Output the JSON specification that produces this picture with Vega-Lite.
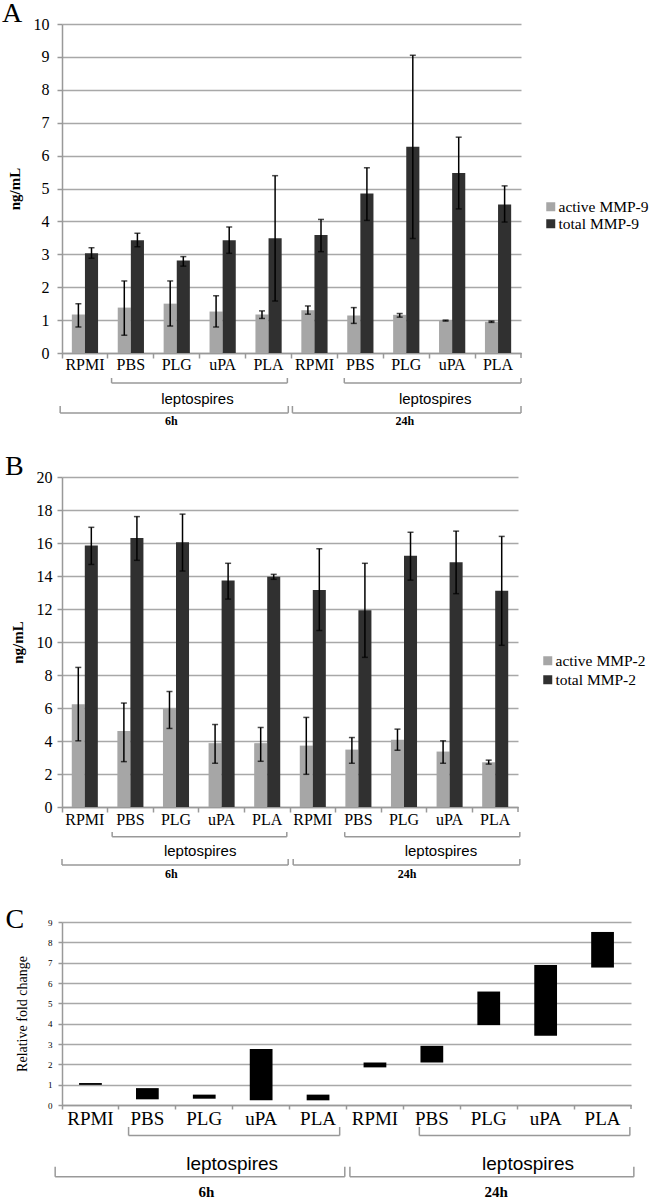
{
  "$schema": "https://vega.github.io/schema/vega-lite/v6.json",
  "padding": {"left": 2, "top": 0, "right": 0, "bottom": 0},
  "background": "white",
  "config": {
    "view": {"stroke": null},
    "axis": {"domainColor": "#999999", "tickColor": "#999999", "domainWidth": 1.5, "tickWidth": 1.5, "gridColor": "#a8a8a8", "gridWidth": 1.5, "labelFont": "Liberation Serif", "labelColor": "#000000", "titleFont": "Liberation Serif", "titleColor": "#000000", "labelOverlap": false}
  },
  "datasets": {
    "mmp9": [
      {"key": "RPMI|6h", "type": "active MMP-9", "mean": 1.17, "lo": 0.79, "hi": 1.50},
      {"key": "RPMI|6h", "type": "total MMP-9", "mean": 3.03, "lo": 2.88, "hi": 3.20},
      {"key": "PBS|6h", "type": "active MMP-9", "mean": 1.38, "lo": 0.54, "hi": 2.19},
      {"key": "PBS|6h", "type": "total MMP-9", "mean": 3.43, "lo": 3.23, "hi": 3.64},
      {"key": "PLG|6h", "type": "active MMP-9", "mean": 1.50, "lo": 0.82, "hi": 2.19},
      {"key": "PLG|6h", "type": "total MMP-9", "mean": 2.81, "lo": 2.64, "hi": 2.93},
      {"key": "uPA|6h", "type": "active MMP-9", "mean": 1.26, "lo": 0.79, "hi": 1.74},
      {"key": "uPA|6h", "type": "total MMP-9", "mean": 3.43, "lo": 3.03, "hi": 3.83},
      {"key": "PLA|6h", "type": "active MMP-9", "mean": 1.17, "lo": 1.05, "hi": 1.28},
      {"key": "PLA|6h", "type": "total MMP-9", "mean": 3.49, "lo": 1.58, "hi": 5.39},
      {"key": "RPMI|24h", "type": "active MMP-9", "mean": 1.30, "lo": 1.18, "hi": 1.43},
      {"key": "RPMI|24h", "type": "total MMP-9", "mean": 3.59, "lo": 3.08, "hi": 4.06},
      {"key": "PBS|24h", "type": "active MMP-9", "mean": 1.14, "lo": 0.90, "hi": 1.38},
      {"key": "PBS|24h", "type": "total MMP-9", "mean": 4.85, "lo": 4.03, "hi": 5.63},
      {"key": "PLG|24h", "type": "active MMP-9", "mean": 1.16, "lo": 1.09, "hi": 1.20},
      {"key": "PLG|24h", "type": "total MMP-9", "mean": 6.27, "lo": 3.48, "hi": 9.05},
      {"key": "uPA|24h", "type": "active MMP-9", "mean": 0.99, "lo": 0.97, "hi": 1.00},
      {"key": "uPA|24h", "type": "total MMP-9", "mean": 5.47, "lo": 4.38, "hi": 6.56},
      {"key": "PLA|24h", "type": "active MMP-9", "mean": 0.95, "lo": 0.93, "hi": 0.97},
      {"key": "PLA|24h", "type": "total MMP-9", "mean": 4.51, "lo": 3.98, "hi": 5.08}
    ],
    "mmp2": [
      {"key": "RPMI|6h", "type": "active MMP-2", "mean": 6.23, "lo": 4.01, "hi": 8.46},
      {"key": "RPMI|6h", "type": "total MMP-2", "mean": 15.85, "lo": 14.7, "hi": 16.95},
      {"key": "PBS|6h", "type": "active MMP-2", "mean": 4.6, "lo": 2.75, "hi": 6.3},
      {"key": "PBS|6h", "type": "total MMP-2", "mean": 16.3, "lo": 14.95, "hi": 17.6},
      {"key": "PLG|6h", "type": "active MMP-2", "mean": 5.97, "lo": 4.76, "hi": 7.0},
      {"key": "PLG|6h", "type": "total MMP-2", "mean": 16.05, "lo": 14.3, "hi": 17.75},
      {"key": "uPA|6h", "type": "active MMP-2", "mean": 3.87, "lo": 2.65, "hi": 5.0},
      {"key": "uPA|6h", "type": "total MMP-2", "mean": 13.72, "lo": 12.6, "hi": 14.77},
      {"key": "PLA|6h", "type": "active MMP-2", "mean": 3.87, "lo": 2.77, "hi": 4.82},
      {"key": "PLA|6h", "type": "total MMP-2", "mean": 13.95, "lo": 13.8, "hi": 14.1},
      {"key": "RPMI|24h", "type": "active MMP-2", "mean": 3.72, "lo": 1.98, "hi": 5.43},
      {"key": "RPMI|24h", "type": "total MMP-2", "mean": 13.15, "lo": 10.7, "hi": 15.65},
      {"key": "PBS|24h", "type": "active MMP-2", "mean": 3.48, "lo": 2.65, "hi": 4.21},
      {"key": "PBS|24h", "type": "total MMP-2", "mean": 11.93, "lo": 9.07, "hi": 14.77},
      {"key": "PLG|24h", "type": "active MMP-2", "mean": 4.08, "lo": 3.44, "hi": 4.72},
      {"key": "PLG|24h", "type": "total MMP-2", "mean": 15.22, "lo": 13.75, "hi": 16.65},
      {"key": "uPA|24h", "type": "active MMP-2", "mean": 3.36, "lo": 2.65, "hi": 4.01},
      {"key": "uPA|24h", "type": "total MMP-2", "mean": 14.84, "lo": 12.93, "hi": 16.72},
      {"key": "PLA|24h", "type": "active MMP-2", "mean": 2.71, "lo": 2.6, "hi": 2.84},
      {"key": "PLA|24h", "type": "total MMP-2", "mean": 13.1, "lo": 9.8, "hi": 16.4}
    ],
    "fold": [
      {"key": "RPMI|6h", "lo": 0.99, "hi": 1.08},
      {"key": "PBS|6h", "lo": 0.28, "hi": 0.83},
      {"key": "PLG|6h", "lo": 0.31, "hi": 0.51},
      {"key": "uPA|6h", "lo": 0.23, "hi": 2.75},
      {"key": "PLA|6h", "lo": 0.23, "hi": 0.51},
      {"key": "RPMI|24h", "lo": 1.85, "hi": 2.09},
      {"key": "PBS|24h", "lo": 2.09, "hi": 2.91},
      {"key": "PLG|24h", "lo": 3.93, "hi": 5.58},
      {"key": "uPA|24h", "lo": 3.4, "hi": 6.89},
      {"key": "PLA|24h", "lo": 6.76, "hi": 8.51}
    ],
    "segA": [
      {"x": 1.08, "x2": 4.91, "y": -0.91, "y2": -0.91},
      {"x": 1.08, "x2": 1.08, "y": -0.91, "y2": -0.76},
      {"x": 4.91, "x2": 4.91, "y": -0.91, "y2": -0.76},
      {"x": 6.15, "x2": 10.0, "y": -0.91, "y2": -0.91},
      {"x": 6.15, "x2": 6.15, "y": -0.91, "y2": -0.76},
      {"x": 10.0, "x2": 10.0, "y": -0.91, "y2": -0.76},
      {"x": -0.04, "x2": 4.93, "y": -1.82, "y2": -1.82},
      {"x": -0.04, "x2": -0.04, "y": -1.82, "y2": -1.61},
      {"x": 4.93, "x2": 4.93, "y": -1.82, "y2": -1.61},
      {"x": 5.02, "x2": 10.0, "y": -1.82, "y2": -1.82},
      {"x": 5.02, "x2": 5.02, "y": -1.82, "y2": -1.61},
      {"x": 10.0, "x2": 10.0, "y": -1.82, "y2": -1.61},
      {"x": 10.0, "x2": 10.0, "y": 0, "y2": -0.15}
    ],
    "txtA": [
      {"x": 2.95, "y": -1.39, "label": "leptospires", "kind": "lept"},
      {"x": 8.13, "y": -1.39, "label": "leptospires", "kind": "lept"},
      {"x": 2.38, "y": -2.07, "label": "6h", "kind": "time"},
      {"x": 7.47, "y": -2.07, "label": "24h", "kind": "time"}
    ],
    "segB": [
      {"x": 1.10, "x2": 4.93, "y": -1.80, "y2": -1.80},
      {"x": 1.10, "x2": 1.10, "y": -1.80, "y2": -1.52},
      {"x": 4.93, "x2": 4.93, "y": -1.80, "y2": -1.52},
      {"x": 6.2, "x2": 10.04, "y": -1.80, "y2": -1.80},
      {"x": 6.2, "x2": 6.2, "y": -1.80, "y2": -1.52},
      {"x": 10.04, "x2": 10.04, "y": -1.80, "y2": -1.52},
      {"x": 0.0, "x2": 4.96, "y": -3.52, "y2": -3.52},
      {"x": 0.0, "x2": 0.0, "y": -3.52, "y2": -3.15},
      {"x": 4.96, "x2": 4.96, "y": -3.52, "y2": -3.15},
      {"x": 5.07, "x2": 10.04, "y": -3.52, "y2": -3.52},
      {"x": 5.07, "x2": 5.07, "y": -3.52, "y2": -3.15},
      {"x": 10.04, "x2": 10.04, "y": -3.52, "y2": -3.15},
      {"x": 10.0, "x2": 10.0, "y": 0, "y2": -0.30}
    ],
    "txtB": [
      {"x": 3.03, "y": -2.67, "label": "leptospires", "kind": "lept"},
      {"x": 8.31, "y": -2.67, "label": "leptospires", "kind": "lept"},
      {"x": 2.40, "y": -4.06, "label": "6h", "kind": "time"},
      {"x": 7.57, "y": -4.06, "label": "24h", "kind": "time"}
    ],
    "segC": [
      {"x": 1.17, "x2": 4.88, "y": -1.50, "y2": -1.50},
      {"x": 1.17, "x2": 1.17, "y": -1.50, "y2": -1.08},
      {"x": 4.88, "x2": 4.88, "y": -1.50, "y2": -1.08},
      {"x": 6.28, "x2": 9.98, "y": -1.50, "y2": -1.50},
      {"x": 6.28, "x2": 6.28, "y": -1.50, "y2": -1.08},
      {"x": 9.98, "x2": 9.98, "y": -1.50, "y2": -1.08},
      {"x": -0.12, "x2": 4.97, "y": -3.53, "y2": -3.53},
      {"x": -0.12, "x2": -0.12, "y": -3.53, "y2": -3.04},
      {"x": 4.97, "x2": 4.97, "y": -3.53, "y2": -3.04},
      {"x": 5.06, "x2": 10.05, "y": -3.53, "y2": -3.53},
      {"x": 5.06, "x2": 5.06, "y": -3.53, "y2": -3.04},
      {"x": 10.05, "x2": 10.05, "y": -3.53, "y2": -3.04},
      {"x": 10.0, "x2": 10.0, "y": 0, "y2": -0.2}
    ],
    "txtC": [
      {"x": 2.99, "y": -2.89, "label": "leptospires", "kind": "lept"},
      {"x": 8.19, "y": -2.89, "label": "leptospires", "kind": "lept"},
      {"x": 2.54, "y": -4.27, "label": "6h", "kind": "time"},
      {"x": 7.63, "y": -4.27, "label": "24h", "kind": "time"}
    ]
  },
  "vconcat": [
    {
      "width": 459,
      "height": 329,
      "title": {"text": "A", "anchor": "start", "frame": "bounds", "font": "Liberation Serif", "fontSize": 28, "fontWeight": "normal", "color": "#000000", "baseline": "alphabetic", "offset": -34, "dx": -5},
      "resolve": {"scale": {"x": "independent"}},
      "layer": [
        {
          "data": {"name": "mmp9"},
          "encoding": {
            "x": {"field": "key", "type": "nominal", "sort": ["RPMI|6h", "PBS|6h", "PLG|6h", "uPA|6h", "PLA|6h", "RPMI|24h", "PBS|24h", "PLG|24h", "uPA|24h", "PLA|24h"], "scale": {"paddingInner": 0, "paddingOuter": 0}, "axis": {"title": null, "labelExpr": "split(datum.label, '|')[0]", "bandPosition": 0, "tickSize": 5, "labelPadding": -2, "labelFontSize": 16, "labelAngle": 0, "labelBaseline": "top", "grid": false}},
            "xOffset": {"field": "type", "type": "nominal", "sort": ["active MMP-9", "total MMP-9"], "scale": {"paddingInner": 0, "paddingOuter": 0.75}}
          },
          "layer": [
            {
              "mark": {"type": "bar"},
              "encoding": {
                "y": {"field": "mean", "type": "quantitative", "title": "ng/mL", "scale": {"domain": [0, 10], "nice": false}, "axis": {"values": [0, 1, 2, 3, 4, 5, 6, 7, 8, 9, 10], "tickSize": 5, "labelPadding": 8, "labelFontSize": 16, "titleFontSize": 15, "titleFontWeight": "bold", "titlePadding": 11, "grid": true}},
                "color": {"field": "type", "type": "nominal", "sort": ["active MMP-9", "total MMP-9"], "scale": {"domain": ["active MMP-9", "total MMP-9"], "range": ["#a6a6a6", "#303030"]}, "legend": {"title": null, "orient": "none", "legendX": 481, "legendY": 175, "symbolType": "square", "symbolSize": 81, "symbolStrokeWidth": 0, "labelFont": "Liberation Serif", "labelFontSize": 15.5, "labelColor": "#000000", "labelOffset": 0, "rowPadding": -1, "padding": 0, "labelLimit": 300}}
              }
            },
            {
              "mark": {"type": "rule", "color": "#000000", "strokeWidth": 1.5},
              "encoding": {"y": {"field": "lo", "type": "quantitative", "title": "ng/mL", "scale": {"domain": [0, 10], "nice": false}, "axis": {"values": [0, 1, 2, 3, 4, 5, 6, 7, 8, 9, 10], "tickSize": 5, "labelPadding": 8, "labelFontSize": 16, "titleFontSize": 15, "titleFontWeight": "bold", "titlePadding": 11, "grid": true}}, "y2": {"field": "hi"}}
            },
            {
              "mark": {"type": "tick", "color": "#000000", "size": 6, "thickness": 1.5},
              "encoding": {"y": {"field": "hi", "type": "quantitative", "title": "ng/mL", "scale": {"domain": [0, 10], "nice": false}, "axis": {"values": [0, 1, 2, 3, 4, 5, 6, 7, 8, 9, 10], "tickSize": 5, "labelPadding": 8, "labelFontSize": 16, "titleFontSize": 15, "titleFontWeight": "bold", "titlePadding": 11, "grid": true}}}
            },
            {
              "mark": {"type": "tick", "color": "#000000", "size": 6, "thickness": 1.5},
              "encoding": {"y": {"field": "lo", "type": "quantitative", "title": "ng/mL", "scale": {"domain": [0, 10], "nice": false}, "axis": {"values": [0, 1, 2, 3, 4, 5, 6, 7, 8, 9, 10], "tickSize": 5, "labelPadding": 8, "labelFontSize": 16, "titleFontSize": 15, "titleFontWeight": "bold", "titlePadding": 11, "grid": true}}}
            }
          ]
        },
        {
          "data": {"name": "segA"},
          "mark": {"type": "rule", "color": "#999999", "strokeWidth": 1.5},
          "encoding": {
            "x": {"field": "x", "type": "quantitative", "scale": {"domain": [0, 10], "nice": false, "zero": false}, "axis": null},
            "x2": {"field": "x2"},
            "y": {"field": "y", "type": "quantitative", "title": "ng/mL", "scale": {"domain": [0, 10], "nice": false}, "axis": {"values": [0, 1, 2, 3, 4, 5, 6, 7, 8, 9, 10], "tickSize": 5, "labelPadding": 8, "labelFontSize": 16, "titleFontSize": 15, "titleFontWeight": "bold", "titlePadding": 11, "grid": true}},
            "y2": {"field": "y2"}
          }
        },
        {
          "data": {"name": "txtA"},
          "transform": [{"filter": "datum.kind == 'lept'"}],
          "mark": {"type": "text", "font": "Liberation Sans", "fontSize": 15, "color": "#000000", "baseline": "middle"},
          "encoding": {
            "x": {"field": "x", "type": "quantitative", "scale": {"domain": [0, 10], "nice": false, "zero": false}, "axis": null},
            "y": {"field": "y", "type": "quantitative", "title": "ng/mL", "scale": {"domain": [0, 10], "nice": false}, "axis": {"values": [0, 1, 2, 3, 4, 5, 6, 7, 8, 9, 10], "tickSize": 5, "labelPadding": 8, "labelFontSize": 16, "titleFontSize": 15, "titleFontWeight": "bold", "titlePadding": 11, "grid": true}},
            "text": {"field": "label"}
          }
        },
        {
          "data": {"name": "txtA"},
          "transform": [{"filter": "datum.kind == 'time'"}],
          "mark": {"type": "text", "font": "Liberation Serif", "fontSize": 12, "fontWeight": "bold", "color": "#000000", "baseline": "middle"},
          "encoding": {
            "x": {"field": "x", "type": "quantitative", "scale": {"domain": [0, 10], "nice": false, "zero": false}, "axis": null},
            "y": {"field": "y", "type": "quantitative", "title": "ng/mL", "scale": {"domain": [0, 10], "nice": false}, "axis": {"values": [0, 1, 2, 3, 4, 5, 6, 7, 8, 9, 10], "tickSize": 5, "labelPadding": 8, "labelFontSize": 16, "titleFontSize": 15, "titleFontWeight": "bold", "titlePadding": 11, "grid": true}},
            "text": {"field": "label"}
          }
        }
      ]
    },
    {
      "width": 456,
      "height": 330,
      "title": {"text": "B", "anchor": "start", "frame": "bounds", "font": "Liberation Serif", "fontSize": 28, "fontWeight": "normal", "color": "#000000", "baseline": "alphabetic", "offset": -34, "dx": -5},
      "resolve": {"scale": {"x": "independent"}},
      "layer": [
        {
          "data": {"name": "mmp2"},
          "encoding": {
            "x": {"field": "key", "type": "nominal", "sort": ["RPMI|6h", "PBS|6h", "PLG|6h", "uPA|6h", "PLA|6h", "RPMI|24h", "PBS|24h", "PLG|24h", "uPA|24h", "PLA|24h"], "scale": {"paddingInner": 0, "paddingOuter": 0}, "axis": {"title": null, "labelExpr": "split(datum.label, '|')[0]", "bandPosition": 0, "tickSize": 5, "labelPadding": -1, "labelFontSize": 16, "labelAngle": 0, "labelBaseline": "top", "grid": false}},
            "xOffset": {"field": "type", "type": "nominal", "sort": ["active MMP-2", "total MMP-2"], "scale": {"paddingInner": 0, "paddingOuter": 0.75}}
          },
          "layer": [
            {
              "mark": {"type": "bar"},
              "encoding": {
                "y": {"field": "mean", "type": "quantitative", "title": "ng/mL", "scale": {"domain": [0, 20], "nice": false}, "axis": {"values": [0, 2, 4, 6, 8, 10, 12, 14, 16, 18, 20], "tickSize": 5, "labelPadding": 5, "labelFontSize": 16, "titleFontSize": 15, "titleFontWeight": "bold", "titlePadding": 11, "grid": true}},
                "color": {"field": "type", "type": "nominal", "sort": ["active MMP-2", "total MMP-2"], "scale": {"domain": ["active MMP-2", "total MMP-2"], "range": ["#a6a6a6", "#303030"]}, "legend": {"title": null, "orient": "none", "legendX": 478, "legendY": 176, "symbolType": "square", "symbolSize": 81, "symbolStrokeWidth": 0, "labelFont": "Liberation Serif", "labelFontSize": 15.5, "labelColor": "#000000", "labelOffset": 0, "rowPadding": 2, "padding": 0, "labelLimit": 300}}
              }
            },
            {
              "mark": {"type": "rule", "color": "#000000", "strokeWidth": 1.5},
              "encoding": {"y": {"field": "lo", "type": "quantitative", "title": "ng/mL", "scale": {"domain": [0, 20], "nice": false}, "axis": {"values": [0, 2, 4, 6, 8, 10, 12, 14, 16, 18, 20], "tickSize": 5, "labelPadding": 5, "labelFontSize": 16, "titleFontSize": 15, "titleFontWeight": "bold", "titlePadding": 11, "grid": true}}, "y2": {"field": "hi"}}
            },
            {
              "mark": {"type": "tick", "color": "#000000", "size": 6, "thickness": 1.5},
              "encoding": {"y": {"field": "hi", "type": "quantitative", "title": "ng/mL", "scale": {"domain": [0, 20], "nice": false}, "axis": {"values": [0, 2, 4, 6, 8, 10, 12, 14, 16, 18, 20], "tickSize": 5, "labelPadding": 5, "labelFontSize": 16, "titleFontSize": 15, "titleFontWeight": "bold", "titlePadding": 11, "grid": true}}}
            },
            {
              "mark": {"type": "tick", "color": "#000000", "size": 6, "thickness": 1.5},
              "encoding": {"y": {"field": "lo", "type": "quantitative", "title": "ng/mL", "scale": {"domain": [0, 20], "nice": false}, "axis": {"values": [0, 2, 4, 6, 8, 10, 12, 14, 16, 18, 20], "tickSize": 5, "labelPadding": 5, "labelFontSize": 16, "titleFontSize": 15, "titleFontWeight": "bold", "titlePadding": 11, "grid": true}}}
            }
          ]
        },
        {
          "data": {"name": "segB"},
          "mark": {"type": "rule", "color": "#999999", "strokeWidth": 1.5},
          "encoding": {
            "x": {"field": "x", "type": "quantitative", "scale": {"domain": [0, 10], "nice": false, "zero": false}, "axis": null},
            "x2": {"field": "x2"},
            "y": {"field": "y", "type": "quantitative", "title": "ng/mL", "scale": {"domain": [0, 20], "nice": false}, "axis": {"values": [0, 2, 4, 6, 8, 10, 12, 14, 16, 18, 20], "tickSize": 5, "labelPadding": 5, "labelFontSize": 16, "titleFontSize": 15, "titleFontWeight": "bold", "titlePadding": 11, "grid": true}},
            "y2": {"field": "y2"}
          }
        },
        {
          "data": {"name": "txtB"},
          "transform": [{"filter": "datum.kind == 'lept'"}],
          "mark": {"type": "text", "font": "Liberation Sans", "fontSize": 15, "color": "#000000", "baseline": "middle"},
          "encoding": {
            "x": {"field": "x", "type": "quantitative", "scale": {"domain": [0, 10], "nice": false, "zero": false}, "axis": null},
            "y": {"field": "y", "type": "quantitative", "title": "ng/mL", "scale": {"domain": [0, 20], "nice": false}, "axis": {"values": [0, 2, 4, 6, 8, 10, 12, 14, 16, 18, 20], "tickSize": 5, "labelPadding": 5, "labelFontSize": 16, "titleFontSize": 15, "titleFontWeight": "bold", "titlePadding": 11, "grid": true}},
            "text": {"field": "label"}
          }
        },
        {
          "data": {"name": "txtB"},
          "transform": [{"filter": "datum.kind == 'time'"}],
          "mark": {"type": "text", "font": "Liberation Serif", "fontSize": 12, "fontWeight": "bold", "color": "#000000", "baseline": "middle"},
          "encoding": {
            "x": {"field": "x", "type": "quantitative", "scale": {"domain": [0, 10], "nice": false, "zero": false}, "axis": null},
            "y": {"field": "y", "type": "quantitative", "title": "ng/mL", "scale": {"domain": [0, 20], "nice": false}, "axis": {"values": [0, 2, 4, 6, 8, 10, 12, 14, 16, 18, 20], "tickSize": 5, "labelPadding": 5, "labelFontSize": 16, "titleFontSize": 15, "titleFontWeight": "bold", "titlePadding": 11, "grid": true}},
            "text": {"field": "label"}
          }
        }
      ]
    },
    {
      "width": 569,
      "height": 183,
      "title": {"text": "C", "anchor": "start", "frame": "bounds", "font": "Liberation Serif", "fontSize": 28, "fontWeight": "normal", "color": "#000000", "baseline": "alphabetic", "offset": -37.5, "dx": -10},
      "resolve": {"scale": {"x": "independent"}},
      "layer": [
        {
          "data": {"name": "fold"},
          "mark": {"type": "bar", "color": "#000000", "width": {"band": 0.4}},
          "encoding": {
            "x": {"field": "key", "type": "nominal", "sort": ["RPMI|6h", "PBS|6h", "PLG|6h", "uPA|6h", "PLA|6h", "RPMI|24h", "PBS|24h", "PLG|24h", "uPA|24h", "PLA|24h"], "scale": {"paddingInner": 0, "paddingOuter": 0}, "axis": {"title": null, "labelExpr": "split(datum.label, '|')[0]", "bandPosition": 0, "tickSize": 4, "labelPadding": 0, "labelFontSize": 19, "labelAngle": 0, "labelBaseline": "top", "grid": false}},
            "y": {"field": "lo", "type": "quantitative", "title": "Relative fold change", "scale": {"domain": [0, 9], "nice": false}, "axis": {"values": [0, 1, 2, 3, 4, 5, 6, 7, 8, 9], "tickSize": 4, "labelPadding": 6, "labelFontSize": 9, "titleFontSize": 14, "titleFontWeight": "normal", "titlePadding": 18, "grid": true}},
            "y2": {"field": "hi"}
          }
        },
        {
          "data": {"name": "segC"},
          "mark": {"type": "rule", "color": "#999999", "strokeWidth": 1.5},
          "encoding": {
            "x": {"field": "x", "type": "quantitative", "scale": {"domain": [0, 10], "nice": false, "zero": false}, "axis": null},
            "x2": {"field": "x2"},
            "y": {"field": "y", "type": "quantitative", "title": "Relative fold change", "scale": {"domain": [0, 9], "nice": false}, "axis": {"values": [0, 1, 2, 3, 4, 5, 6, 7, 8, 9], "tickSize": 4, "labelPadding": 6, "labelFontSize": 9, "titleFontSize": 14, "titleFontWeight": "normal", "titlePadding": 18, "grid": true}},
            "y2": {"field": "y2"}
          }
        },
        {
          "data": {"name": "txtC"},
          "transform": [{"filter": "datum.kind == 'lept'"}],
          "mark": {"type": "text", "font": "Liberation Sans", "fontSize": 19, "color": "#000000", "baseline": "middle"},
          "encoding": {
            "x": {"field": "x", "type": "quantitative", "scale": {"domain": [0, 10], "nice": false, "zero": false}, "axis": null},
            "y": {"field": "y", "type": "quantitative", "title": "Relative fold change", "scale": {"domain": [0, 9], "nice": false}, "axis": {"values": [0, 1, 2, 3, 4, 5, 6, 7, 8, 9], "tickSize": 4, "labelPadding": 6, "labelFontSize": 9, "titleFontSize": 14, "titleFontWeight": "normal", "titlePadding": 18, "grid": true}},
            "text": {"field": "label"}
          }
        },
        {
          "data": {"name": "txtC"},
          "transform": [{"filter": "datum.kind == 'time'"}],
          "mark": {"type": "text", "font": "Liberation Serif", "fontSize": 15, "fontWeight": "bold", "color": "#000000", "baseline": "middle"},
          "encoding": {
            "x": {"field": "x", "type": "quantitative", "scale": {"domain": [0, 10], "nice": false, "zero": false}, "axis": null},
            "y": {"field": "y", "type": "quantitative", "title": "Relative fold change", "scale": {"domain": [0, 9], "nice": false}, "axis": {"values": [0, 1, 2, 3, 4, 5, 6, 7, 8, 9], "tickSize": 4, "labelPadding": 6, "labelFontSize": 9, "titleFontSize": 14, "titleFontWeight": "normal", "titlePadding": 18, "grid": true}},
            "text": {"field": "label"}
          }
        }
      ]
    }
  ],
  "spacing": 25,
  "bounds": "full",
  "center": false,
  "resolve": {"scale": {"color": "independent", "xOffset": "independent"}, "legend": {"color": "independent"}}
}
